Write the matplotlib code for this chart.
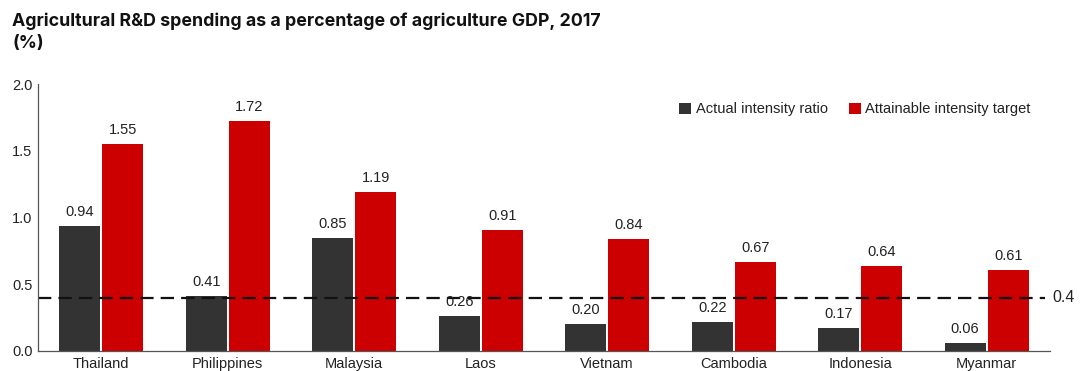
import matplotlib
matplotlib.use("Agg")
import matplotlib.pyplot as plt
import numpy as np

countries = ["Thailand", "Philippines", "Malaysia", "Laos", "Vietnam", "Cambodia", "Indonesia", "Myanmar"]
actual = [0.94, 0.41, 0.85, 0.26, 0.20, 0.22, 0.17, 0.06]
target = [1.55, 1.72, 1.19, 0.91, 0.84, 0.67, 0.64, 0.61]
threshold = 0.4
yticks = [0.0, 0.5, 1.0, 1.5, 2.0]

plt.rcParams['font.family'] = ['Liberation Sans', 'DejaVu Sans']

fig = plt.figure(figsize=(10.8, 3.71), dpi=100)
ax = fig.add_axes([38/1080, 20/371, (1050-38)/1080, (351-84)/371])

x = np.arange(len(countries))
w = 0.325
gap = 0.008
b1 = ax.bar(x - w/2 - gap, actual, w, color="#333333", label="Actual intensity ratio")
b2 = ax.bar(x + w/2 + gap, target, w, color="#cc0000", label="Attainable intensity target")

for bars, vals in ((b1, actual), (b2, target)):
    for r, v in zip(bars, vals):
        ax.annotate(f"{v:.2f}", (r.get_x() + r.get_width()/2, v), xytext=(0, 5),
                    textcoords="offset points", ha="center", va="bottom", fontsize=10.5, color="#222222")

ax.axhline(threshold, color="#111111", linestyle=(0, (6, 3.2)), linewidth=1.6, xmin=0, xmax=0.995, clip_on=False)
ax.text(1.0025, threshold, "0.4", transform=ax.get_yaxis_transform(), ha="left", va="center", fontsize=11.5, color="#222222")

ax.set_xlim(-0.5, 7.5)
ax.set_ylim(0, 2.0)
ax.set_yticks(yticks)
ax.set_yticklabels([f"{t:.1f}" for t in yticks], fontsize=10.5, color="#222222")
ax.set_xticks(x)
ax.set_xticklabels(countries, fontsize=10.5, color="#222222")
ax.tick_params(length=0, pad=4)
for s in ("top", "right"):
    ax.spines[s].set_visible(False)
for s in ("left", "bottom"):
    ax.spines[s].set_color("#555555")
    ax.spines[s].set_linewidth(0.9)

leg = ax.legend(loc="upper right", bbox_to_anchor=(0.994, 0.98), ncol=2, frameon=False, fontsize=10.5,
                handlelength=0.8, handleheight=0.8, handletextpad=0.3, columnspacing=1.5)
for t in leg.get_texts():
    t.set_color("#222222")

fig.text(12/1080, 1 - 21/371, "Agricultural R&D spending as a percentage of agriculture GDP, 2017",
         family=["Inter", "DejaVu Sans"], fontweight="bold", fontsize=12.8, va="center", ha="left", color="#111111")
fig.text(12/1080, 1 - 43/371, "(%)", family=["Inter", "DejaVu Sans"], fontweight="bold", fontsize=12.8,
         va="center", ha="left", color="#111111")

fig.savefig("out.png", dpi=100)
